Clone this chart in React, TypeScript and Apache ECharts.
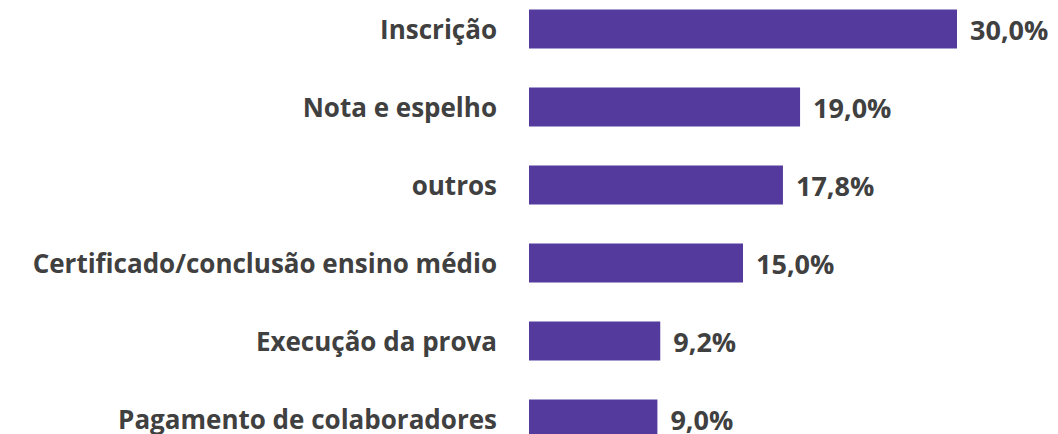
import React, { useEffect, useRef } from "react";
import * as echarts from "echarts";

const categories = [
  "Inscrição",
  "Nota e espelho",
  "outros",
  "Certificado/conclusão ensino médio",
  "Execução da prova",
  "Pagamento de colaboradores",
];
const values = [30.0, 19.0, 17.8, 15.0, 9.2, 9.0];

export default function App() {
  const ref = useRef<HTMLDivElement>(null);
  useEffect(() => {
    document.body.style.margin = "0";
    const chart = echarts.init(ref.current!, null, { renderer: "svg" });
    chart.setOption({
      animation: false,
      grid: { left: 529, top: 0, width: 428, height: 468, containLabel: false },
      xAxis: { type: "value", min: 0, max: 30, show: false },
      yAxis: {
        type: "category",
        inverse: true,
        data: categories,
        axisLine: { show: false },
        axisTick: { show: false },
        axisLabel: {
          margin: 32,
          color: "#404040",
          fontFamily: "Open Sans",
          fontWeight: "bold",
          fontSize: 26,
          lineHeight: 24,
        },
      },
      series: [
        {
          type: "bar",
          data: values,
          barCategoryGap: "50%",
          itemStyle: { color: "#553A9E" },
          label: {
            show: true,
            position: "right",
            distance: 13,
            color: "#404040",
            fontFamily: "Open Sans",
            fontWeight: "bold",
            fontSize: 27,
            lineHeight: 24,
            formatter: (p: any) => p.value.toFixed(1).replace(".", ",") + "%",
          },
        },
      ],
    });
    return () => chart.dispose();
  }, []);
  return (
    <div style={{ width: 1058, height: 434, overflow: "hidden", position: "relative" }}>
      <div ref={ref} style={{ position: "absolute", left: 0, top: -10, width: 1058, height: 478 }} />
    </div>
  );
}
